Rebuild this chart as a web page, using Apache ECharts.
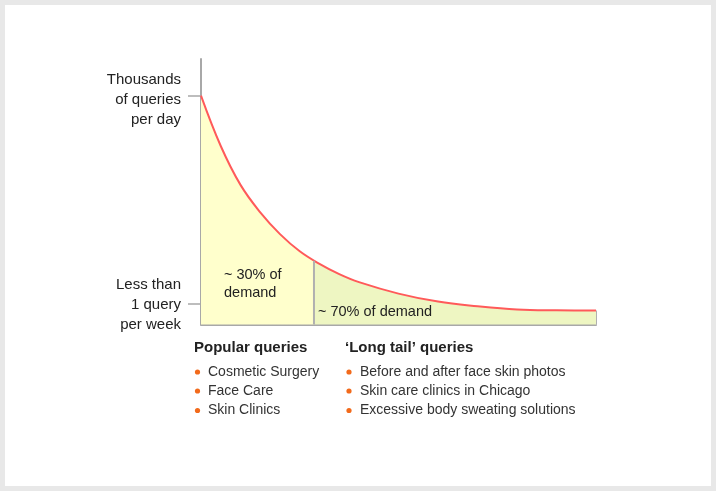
<!DOCTYPE html>
<html>
<head>
<meta charset="utf-8">
<script src="https://cdn.jsdelivr.net/npm/echarts@6/dist/echarts.min.js"></script>
<style>
html,body{margin:0;padding:0;background:#e8e8e8;}
#c{width:716px;height:491px;}
</style>
</head>
<body>
<div id="c"></div>
<script>
// Curve: demand (relative) vs rank of query
var xValues = [0, 5, 10, 15, 20, 25, 30, 35, 40, 50, 60, 70, 80, 90, 100];
var yValues = [100, 78, 61, 49, 39.5, 32, 26.5, 22, 18.5, 13.5, 10, 8, 6.6, 6.2, 6.1];
var dividerX = 28.6;
var dividerY = 27.8;
var tickValues = [100, 9.2];
var tickLabelValues = [98.1, 8.4];
var tickLabels = ["Thousands\nof queries\nper day", "Less than\n1 query\nper week"];
var leftNote = "~ 30% of\ndemand";
var rightNote = "~ 70% of demand";
var popularTitle = "Popular queries";
var popularItems = ["Cosmetic Surgery", "Face Care", "Skin Clinics"];
var tailTitle = "\u2018Long tail\u2019 queries";
var tailItems = ["Before and after face skin photos", "Skin care clinics in Chicago", "Excessive body sweating solutions"];

var curveData = xValues.map(function(x, i){ return [x, yValues[i]]; });
var xMin = xValues[0], endX = xValues[xValues.length - 1], endY = yValues[yValues.length - 1];
var f = (dividerX - xMin) / (endX - xMin);
var areaFill = new echarts.graphic.LinearGradient(0, 0, 1, 0, [
  {offset:0, color:'#ffffcc'}, {offset:f, color:'#ffffcc'},
  {offset:f, color:'#eef6c2'}, {offset:1, color:'#eef6c2'}
]);

var FONT = '"Liberation Sans", Arial, sans-serif';
var textColor = '#222';
var graphics = [
  {type:'rect', z:-10, shape:{x:5,y:5,width:706,height:481}, style:{fill:'#ffffff'}},
  {type:'text', z:10, style:{x:224, y:284, text:leftNote, fill:textColor, font:'14.5px ' + FONT, lineHeight:18.5, verticalAlign:'middle'}},
  {type:'text', z:10, style:{x:318, y:312, text:rightNote, fill:textColor, font:'14.5px ' + FONT, verticalAlign:'middle'}},
  {type:'text', z:10, style:{x:194, y:347.5, text:popularTitle, fill:textColor, font:'bold 15px ' + FONT, verticalAlign:'middle'}},
  {type:'text', z:10, style:{x:345, y:347.5, text:tailTitle, fill:textColor, font:'bold 15px ' + FONT, verticalAlign:'middle'}}
];
var rowY = [372, 391, 410.5];
popularItems.forEach(function(t, k){
  graphics.push({type:'circle', z:10, shape:{cx:197.5, cy:rowY[k], r:2.6}, style:{fill:'#f26a1b'}});
  graphics.push({type:'text', z:10, style:{x:208, y:rowY[k], text:t, fill:'#333', font:'14px ' + FONT, verticalAlign:'middle'}});
});
tailItems.forEach(function(t, k){
  graphics.push({type:'circle', z:10, shape:{cx:349, cy:rowY[k], r:2.6}, style:{fill:'#f26a1b'}});
  graphics.push({type:'text', z:10, style:{x:360, y:rowY[k], text:t, fill:'#333', font:'14px ' + FONT, verticalAlign:'middle'}});
});

var chart = echarts.init(document.getElementById('c'), null, {renderer:'canvas'});
chart.setOption({
  backgroundColor: 'transparent',
  animation: false,
  grid: {left:201, right:120, top:59, bottom:166.5},
  xAxis: {
    type:'value', min:0, max:100,
    axisLine:{show:true, lineStyle:{color:'#a8a8a8', width:2}},
    axisTick:{show:false}, axisLabel:{show:false}, splitLine:{show:false}
  },
  yAxis: {
    type:'value', min:0, max:116,
    axisLine:{show:true, lineStyle:{color:'#a8a8a8', width:2}},
    axisTick:{show:true, customValues:tickValues, length:13, lineStyle:{color:'#a8a8a8', width:1.5}},
    axisLabel:{
      show:true, customValues:tickLabelValues, margin:20, align:'right',
      color:textColor, fontSize:15, fontFamily:FONT, lineHeight:20,
      formatter:function(v){ var k = tickLabelValues.indexOf(v); return k >= 0 ? tickLabels[k] : ''; }
    },
    splitLine:{show:false}
  },
  series: [
    {type:'line', data:curveData, smooth:0.4, symbol:'none',
     lineStyle:{color:'#ff5a5a', width:2}, areaStyle:{color:areaFill, opacity:1}, z:2},
    {type:'line', data:[[dividerX,0],[dividerX,dividerY]], symbol:'none',
     lineStyle:{color:'#b0b0b0', width:2}, z:3},
    {type:'line', data:[[endX,0],[endX,endY]], symbol:'none',
     lineStyle:{color:'#b0b0b0', width:2}, z:1}
  ],
  graphic: graphics
});
</script>
</body>
</html>
